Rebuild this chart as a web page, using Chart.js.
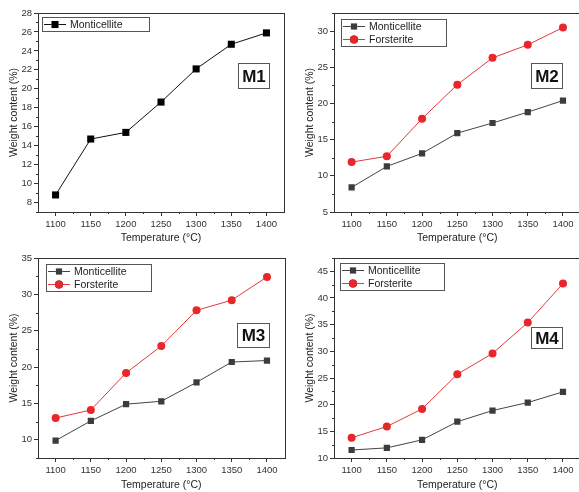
<!DOCTYPE html>
<html>
<head>
<meta charset="utf-8">
<script src="https://cdn.jsdelivr.net/npm/chart.js@4.4.1/dist/chart.umd.min.js"></script>
<style>
    html, body { margin: 0; padding: 0; background: #fff; }
    #wrap { position: relative; width: 579px; height: 492px; overflow: hidden; }
    .panel { position: absolute; overflow: hidden; }
    canvas { display: block; }
</style>
</head>
<body>
<div id="wrap">
    <div class="panel" style="left:0;top:0;width:289px;height:245px"><canvas id="c1" width="289" height="245"></canvas></div>
    <div class="panel" style="left:289px;top:0;width:290px;height:245px"><canvas id="c2" width="296" height="245"></canvas></div>
    <div class="panel" style="left:0;top:245px;width:289px;height:247px"><canvas id="c3" width="289" height="247"></canvas></div>
    <div class="panel" style="left:289px;top:245px;width:290px;height:247px"><canvas id="c4" width="296" height="247"></canvas></div>
</div>
<script>
// ── data ──
const temps = [1100, 1150, 1200, 1250, 1300, 1350, 1400];

const m1Monticellite = [8.8, 14.7, 15.4, 18.6, 22.1, 24.7, 25.9];

const m2Monticellite = [8.4, 11.3, 13.1, 15.9, 17.3, 18.8, 20.4];
const m2Forsterite   = [11.9, 12.7, 17.9, 22.6, 26.3, 28.1, 30.5];

const m3Monticellite = [9.9, 12.6, 14.9, 15.3, 17.9, 20.7, 20.9];
const m3Forsterite   = [13.0, 14.1, 19.2, 22.9, 27.8, 29.2, 32.4];

const m4Monticellite = [11.5, 11.9, 13.4, 16.8, 18.9, 20.4, 22.4];
const m4Forsterite   = [13.8, 15.9, 19.2, 25.7, 29.6, 35.4, 42.7];

const yTicksM1 = [8, 10, 12, 14, 16, 18, 20, 22, 24, 26, 28];
const yTicksM2 = [5, 10, 15, 20, 25, 30];
const yTicksM3 = [10, 15, 20, 25, 30, 35];
const yTicksM4 = [10, 15, 20, 25, 30, 35, 40, 45];

Chart.defaults.font.family = "'Liberation Sans', Arial, sans-serif";
Chart.defaults.color = '#333';

const FONT = "'Liberation Sans', Arial, sans-serif";

// ── frame, minor ticks, legend box, panel label ──
const decorPlugin = {
    id: 'decor',
    afterDraw(chart, args, opts) {
        const ctx = chart.ctx;
        const a = chart.chartArea;
        const xs = chart.scales.x;
        const ys = chart.scales.y;
        ctx.save();

        // frame
        ctx.strokeStyle = '#333';
        ctx.lineWidth = 1;
        ctx.strokeRect(Math.round(a.left) + 0.5, Math.round(a.top) + 0.5,
            Math.round(a.right - a.left), Math.round(a.bottom - a.top));

        // minor ticks
        ctx.beginPath();
        temps.slice(0, -1).forEach(t => {
            const px = Math.round(xs.getPixelForValue(t + 25)) + 0.5;
            ctx.moveTo(px, a.bottom);
            ctx.lineTo(px, a.bottom + 2);
        });
        const yt = opts.yTicks;
        const step = yt[1] - yt[0];
        for (let v = yt[0] - step / 2; v <= ys.max; v += step) {
            if (v < ys.min) continue;
            const py = Math.round(ys.getPixelForValue(v)) + 0.5;
            ctx.moveTo(a.left, py);
            ctx.lineTo(a.left - 2, py);
        }
        ctx.stroke();

        // legend
        const lx = a.left + opts.legend.dx;
        const ly = a.top + opts.legend.dy;
        const rowH = 13;
        const lh = chart.data.datasets.length * rowH + 1;
        ctx.fillStyle = '#fff';
        ctx.fillRect(lx, ly, opts.legend.w, lh);
        ctx.strokeStyle = '#555';
        ctx.strokeRect(lx + 0.5, ly + 0.5, opts.legend.w, lh);
        ctx.font = '10.5px ' + FONT;
        ctx.textBaseline = 'middle';
        chart.data.datasets.forEach((ds, i) => {
            const cy = ly + 7.5 + i * rowH;
            ctx.strokeStyle = ds.borderColor;
            ctx.lineWidth = 1;
            ctx.beginPath();
            ctx.moveTo(lx + 2, cy);
            ctx.lineTo(lx + 24, cy);
            ctx.stroke();
            Chart.helpers.drawPoint(ctx, {
                pointStyle: ds.pointStyle,
                radius: ds.pointRadius,
                borderWidth: 0
            }, lx + 13, cy);
            ctx.fillStyle = ds.pointBackgroundColor;
            ctx.fill();
            ctx.fillStyle = '#222';
            ctx.fillText(ds.label, lx + 28, cy + 0.5);
        });

        // panel label
        const b = opts.tag;
        ctx.fillStyle = '#fff';
        ctx.fillRect(b.x, b.y, b.w, b.h);
        ctx.strokeStyle = '#555';
        ctx.lineWidth = 1;
        ctx.strokeRect(b.x + 0.5, b.y + 0.5, b.w, b.h);
        ctx.fillStyle = '#111';
        ctx.font = 'bold 17px ' + FONT;
        ctx.textAlign = 'center';
        ctx.fillText(b.text, b.x + b.w / 2 + 0.5, b.y + b.h / 2 + 1.5);

        ctx.restore();
    }
};

function series(label, values, kind) {
    const red = kind === 'forsterite';
    const black = kind === 'black';
    return {
        label,
        data: temps.map((t, i) => ({ x: t, y: values[i] })),
        borderColor: red ? '#e03a3a' : (black ? '#111' : '#444'),
        borderWidth: 1,
        pointStyle: red ? 'circle' : 'rect',
        pointRadius: red ? 4 : (black ? 5 : 4.4),
        pointBackgroundColor: red ? '#e8262b' : (black ? '#000' : '#3c3c3c'),
        pointBorderWidth: 0,
        tension: 0
    };
}

function makeChart(id, datasets, yMin, yMax, yTicks, yWidth, titlePad, xHeight, legend, tag) {
    const ctx = document.getElementById(id).getContext('2d');
    return new Chart(ctx, {
        type: 'line',
        data: { datasets },
        plugins: [decorPlugin],
        options: {
            responsive: false,
            animation: false,
            layout: { padding: { top: 13, right: 2, left: 0, bottom: 0 } },
            plugins: {
                legend: { display: false },
                tooltip: { enabled: false },
                decor: { yTicks, legend, tag }
            },
            scales: {
                x: {
                    type: 'linear',
                    min: 1075,
                    max: 1425,
                    afterBuildTicks: s => { s.ticks = temps.map(v => ({ value: v })); },
                    afterFit: s => { s.height = xHeight; },
                    ticks: { font: { size: 9.5 }, padding: 3, color: '#333', maxRotation: 0, callback: v => String(v) },
                    grid: { drawOnChartArea: false, tickLength: 4, color: '#333' },
                    border: { display: false },
                    title: { display: true, text: 'Temperature (°C)', font: { size: 10.5 }, padding: { top: 0, bottom: 1 }, color: '#222' }
                },
                y: {
                    min: yMin,
                    max: yMax,
                    afterBuildTicks: s => { s.ticks = yTicks.map(v => ({ value: v })); },
                    afterFit: s => { s.width = yWidth; },
                    ticks: { font: { size: 9.5 }, padding: 2, color: '#333', callback: v => String(v) },
                    grid: { drawOnChartArea: false, tickLength: 4, color: '#333' },
                    border: { display: false },
                    title: { display: true, text: 'Weight content (%)', font: { size: 10.5 }, padding: { top: titlePad, bottom: 0 }, color: '#222' }
                }
            }
        }
    });
}

makeChart('c1', [series('Monticellite', m1Monticellite, 'black')],
    7, 28, yTicksM1, 38, 8, 33,
    { dx: 4, dy: 4, w: 107 },
    { x: 238, y: 63, w: 31, h: 25, text: 'M1' });

makeChart('c2', [series('Monticellite', m2Monticellite, 'gray'), series('Forsterite', m2Forsterite, 'forsterite')],
    5, 32.5, yTicksM2, 45, 15, 33,
    { dx: 7, dy: 6, w: 105 },
    { x: 242, y: 63, w: 31, h: 25, text: 'M2' });

makeChart('c3', [series('Monticellite', m3Monticellite, 'gray'), series('Forsterite', m3Forsterite, 'forsterite')],
    7.5, 35, yTicksM3, 38, 8, 34,
    { dx: 8, dy: 6, w: 105 },
    { x: 237, y: 78, w: 32, h: 24, text: 'M3' });

makeChart('c4', [series('Monticellite', m4Monticellite, 'gray'), series('Forsterite', m4Forsterite, 'forsterite')],
    10, 47.5, yTicksM4, 45, 15, 34,
    { dx: 6, dy: 5, w: 104 },
    { x: 242, y: 82, w: 31, h: 21, text: 'M4' });
</script>
</body>
</html>
